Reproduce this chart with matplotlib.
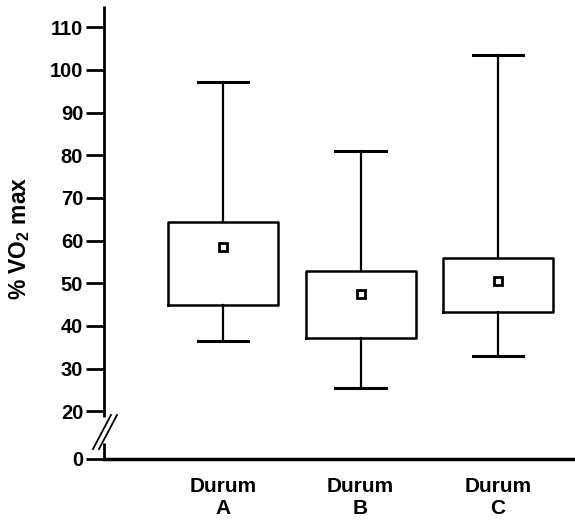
import numpy as np
import matplotlib
matplotlib.use("Agg")
import matplotlib.pyplot as plt
from matplotlib.lines import Line2D

categories = ["Durum\nA", "Durum\nB", "Durum\nC"]
whisker_low = [36.5, 25.5, 33.0]
q1 = [44.8, 37.2, 43.2]
q3 = [64.3, 52.8, 55.9]
whisker_high = [97.3, 80.9, 103.5]
means = [58.6, 47.4, 50.6]
yticks = [0, 20, 30, 40, 50, 60, 70, 80, 90, 100, 110]

plt.rcParams['font.family'] = ['Liberation Sans', 'DejaVu Sans']

BREAK = 20.0
LOW_OFF = 8.8
LOW_SCALE = (BREAK - LOW_OFF) / BREAK

def fwd(y):
    y = np.asarray(y, dtype=float)
    return np.where(y >= BREAK, y, LOW_OFF + y * LOW_SCALE)

def inv(y):
    y = np.asarray(y, dtype=float)
    return np.where(y >= BREAK, y, (y - LOW_OFF) / LOW_SCALE)

fig = plt.figure(figsize=(5.75, 5.22), dpi=100)
W, H = 575, 522
ax = fig.add_axes([104 / W, (522 - 459) / H, (575 - 104) / W, (459 - 6) / H])

stats = []
for i in range(len(categories)):
    stats.append(dict(med=np.nan, q1=q1[i], q3=q3[i],
                      whislo=whisker_low[i], whishi=whisker_high[i],
                      mean=means[i], fliers=[], label=categories[i]))

positions = [1, 2, 3]
ax.bxp(stats, positions=positions, widths=0.8, capwidths=0.37,
       showmeans=True, showfliers=False,
       boxprops=dict(color='black', linewidth=1.8),
       whiskerprops=dict(color='black', linewidth=1.6),
       capprops=dict(color='black', linewidth=2.2),
       medianprops=dict(linewidth=0),
       meanprops=dict(marker='s', markersize=5.5, markerfacecolor='white',
                      markeredgecolor='black', markeredgewidth=2.0))

ax.set_yscale('function', functions=(fwd, inv))
ax.set_ylim(0, 115)
ax.set_xlim(0.134, 3.56)
ax.set_yticks(yticks)
ax.set_yticklabels([str(t) for t in yticks], fontsize=14.5, fontweight='bold')
ax.set_xticks(positions)
ax.set_xticklabels(categories, fontsize=15, fontweight='bold', linespacing=1.2)
ax.tick_params(axis='x', length=0, pad=13)
ax.tick_params(axis='y', length=13, width=2, pad=2, direction='out')

for s in ['top', 'right', 'left']:
    ax.spines[s].set_visible(False)
ax.spines['bottom'].set_linewidth(2.5)

ax.set_ylabel('% VO$_\\mathregular{2}$ max', fontsize=16.5, fontweight='bold')
ax.yaxis.set_label_coords(-0.153, 0.488)

# broken left axis
ah = 459 - 6
lo_top = (459 - 443) / ah
hi_bot = (459 - 417) / ah
ax.add_line(Line2D([0, 0], [0, lo_top], transform=ax.transAxes, color='black',
                   linewidth=2, clip_on=False, solid_capstyle='butt'))
ax.add_line(Line2D([0, 0], [hi_bot, 1.0], transform=ax.transAxes, color='black',
                   linewidth=2, clip_on=False, solid_capstyle='butt'))
for dx in (0, 6):
    x0 = (93 + dx) / W
    x1 = (111 + dx) / W
    fig.add_artist(Line2D([x0, x1], [(522 - 449) / H, (522 - 415) / H],
                          transform=fig.transFigure, color='black', linewidth=1.3))

fig.savefig('out.png', dpi=100)
